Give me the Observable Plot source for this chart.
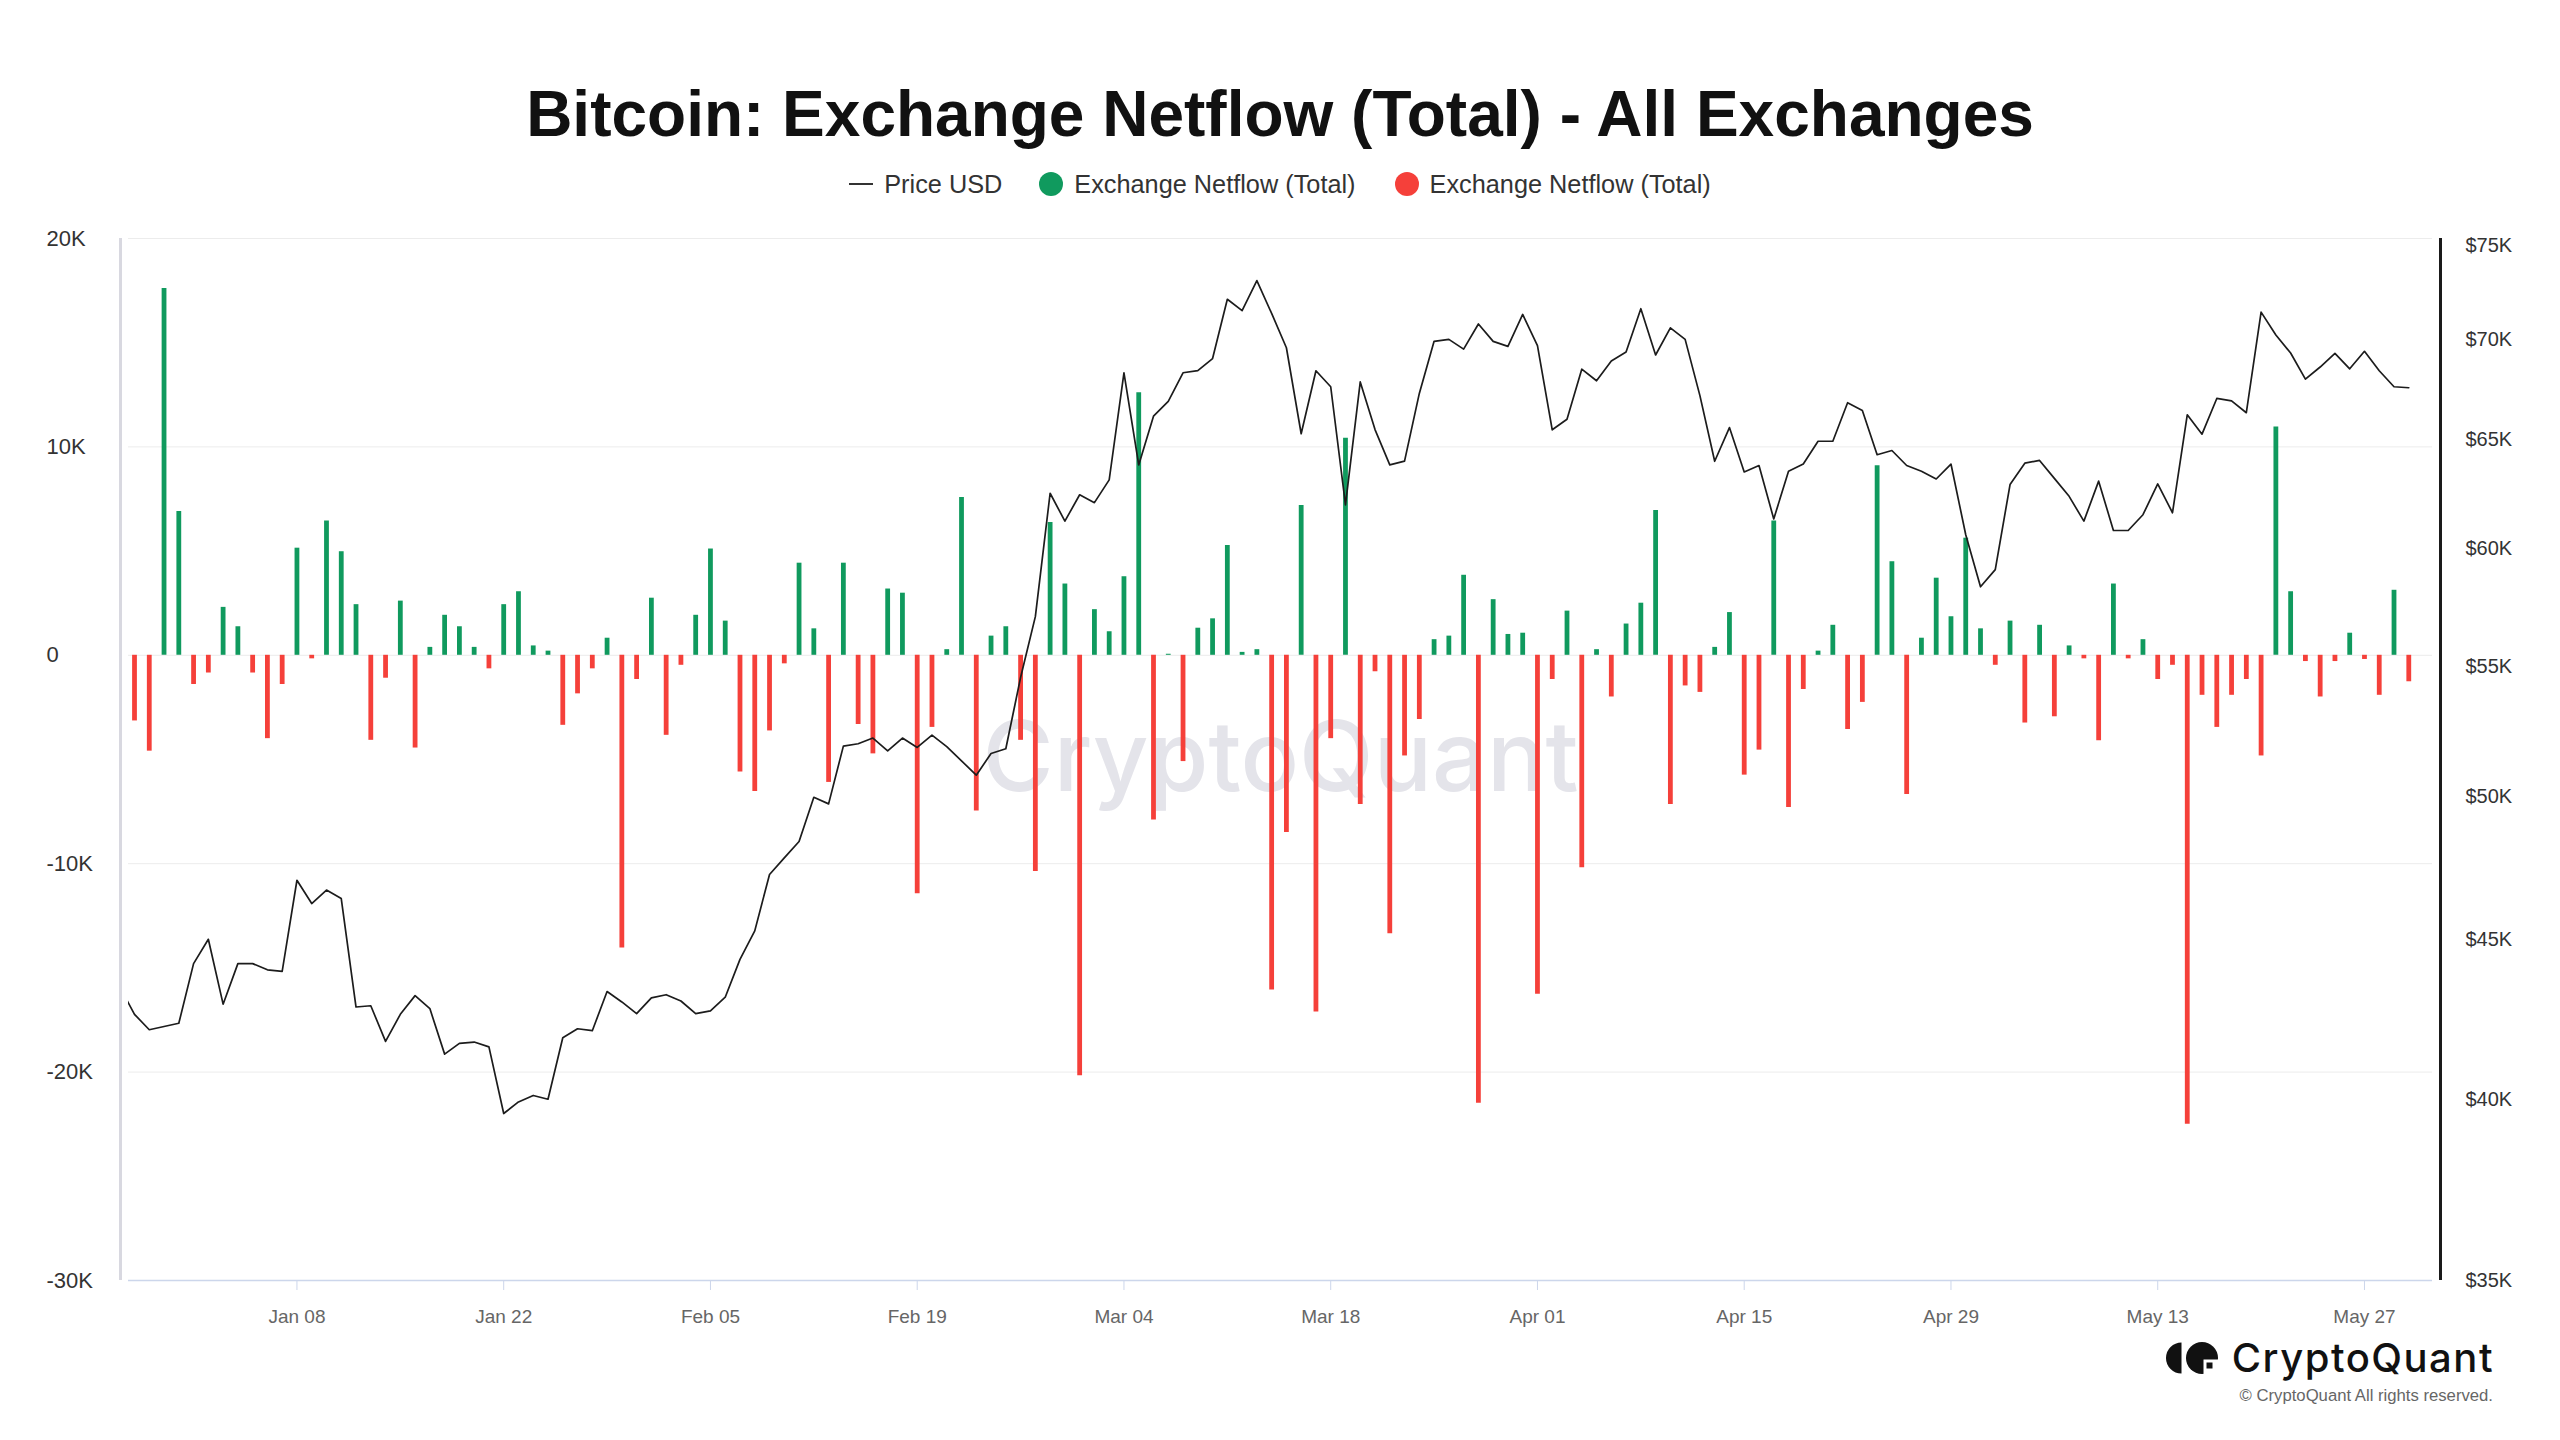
<!DOCTYPE html>
<html>
<head>
<meta charset="utf-8">
<script src="https://cdn.jsdelivr.net/npm/d3@7"></script>
<script src="https://cdn.jsdelivr.net/npm/@observablehq/plot@0.6"></script>
<style>
  html, body { margin: 0; padding: 0; background: #fff; }
  body { width: 2560px; height: 1440px; position: relative; overflow: hidden;
         font-family: "Liberation Sans", Arial, Helvetica, sans-serif; }
  #title { position: absolute; left: 0; width: 2560px; top: 82px; line-height: 64px;
           font-size: 64px; font-weight: bold; text-align: center; color: #111; }
  #legend { position: absolute; left: 0; width: 2560px; top: 169px; height: 30px; line-height: 30px;
            font-size: 25.3px; color: #333; display: flex; justify-content: center; align-items: center; }
  #legend .dot { display: inline-block; width: 24px; height: 24px; border-radius: 50%; }
  #chart { position: absolute; left: 0; top: 200px; }
  #brand { position: absolute; right: 66px; top: 1339px; height: 38px; line-height: 38px;
           display: flex; align-items: center; }
  #brand span { font-family: Inter, "Liberation Sans", sans-serif; font-size: 40px; font-weight: 500;
                letter-spacing: 1.5px; color: #111; margin-left: 13px; }
  #copy { position: absolute; right: 67px; top: 1386px; line-height: 20px; font-size: 16.7px; color: #666; }
</style>
</head>
<body>
<div id="title">Bitcoin: Exchange Netflow (Total) - All Exchanges</div>
<div id="legend">
  <svg width="24" height="4" style="margin-right:11px"><line x1="0" y1="2" x2="24" y2="2" stroke="#333" stroke-width="2"/></svg>
  <span>Price USD</span>
  <span class="dot" style="background:#109a5e;margin-left:37px;margin-right:11px"></span>
  <span>Exchange Netflow (Total)</span>
  <span class="dot" style="background:#f5403a;margin-left:39px;margin-right:11px"></span>
  <span>Exchange Netflow (Total)</span>
</div>
<div id="chart"></div>
<div id="brand">
  <svg width="53" height="32" viewBox="0 0 53 32">
    <path d="M15.5,0.5 A15.5,15.5 0 0 0 15.5,31.5 Z" fill="#111"/>
    <circle cx="36" cy="16" r="16" fill="#111"/>
    <rect x="37.5" y="17.5" width="15.5" height="14.5" fill="#fff"/>
    <rect x="40.5" y="20.5" width="6" height="6" fill="#111"/>
  </svg>
  <span>CryptoQuant</span>
</div>
<div id="copy">© CryptoQuant All rights reserved.</div>

<script>
// ---- Data ----
// Daily exchange netflow (BTC), 2023-12-28 .. 2024-05-30
const flowStart = "2023-12-28";
const netflow = [
  -3150, -4600, 17600, 6900,
  -1400, -850, 2300, 1370, -850, -4000, -1400, 5140, -170, 6440, 4970, 2430, -4080, -1100, 2600, -4450,
  380, 1920, 1370, 380, -650, 2430, 3050, 450, 200, -3360, -1850, -650, 820, -14040, -1160,
  2740, -3840, -480, 1920, 5100, 1640, -5600, -6540, -3630, -410, 4420, 1270, -6100, 4420, -3320,
  -4730, 3180, 2980, -11440, -3460, 270, 7570, -7470, 920, 1370, -4080, -10380, 6370, 3420,
  -20170, 2190, 1130, 3770, 12600, -7900, 50, -5100, 1300, 1750, 5270, 140, 270, -16060, -8500, 7190,
  -17120, -4000, 10410, -7160, -790, -13360, -4830, -3080, 750, 920, 3840, -21500, 2670, 1000, 1060,
  -16270, -1160, 2120, -10200, 270, -2000, 1500, 2500, 6950, -7160, -1470, -1780, 380, 2050, -5750,
  -4550, 6440, -7300, -1640, 200, 1440, -3560, -2260, 9100, 4490, -6680, 820, 3700, 1850, 5620,
  1270, -480, 1640, -3250, 1440, -2950, 450, -170, -4100, 3420, -170, 750, -1160, -480, -22500,
  -1920, -3460, -1920, -1160, -4830, 10960, 3050, -300, -2000, -300, 1060, -200, -1920, 3120, -1270
];
// Daily BTC price (USD), 2023-12-27 .. 2024-05-30
const priceStart = "2023-12-27";
const priceUSD = [
  43450, 42580, 42100, 42200, 42300,
  44200, 45000, 42900, 44200, 44200, 44000, 43950, 47000, 46200, 46660, 46370, 42810, 42850, 41740, 42580,
  43170, 42760, 41350, 41680, 41720, 41570, 39580, 39920, 40110, 40000, 41850, 42130, 42070, 43300, 42970, 42600,
  43100, 43200, 43000, 42600, 42690, 43120, 44340, 45280, 47200, 47780, 48360, 49960, 49720, 51880, 51970,
  52190, 51700, 52190, 51830, 52300, 51860, 51320, 50780, 51600, 51780, 54570, 57070, 62500, 61230,
  62430, 62070, 63120, 68300, 63820, 66150, 66880, 68300, 68410, 69020, 72100, 71500, 73100, 71350, 69570,
  65300, 68400, 67600, 61970, 67840, 65500, 63820, 64000, 67270, 69900, 70000, 69500, 70800, 69900, 69640, 71300,
  69680, 65490, 66000, 68480, 67900, 68900, 69350, 71600, 69200, 70600, 70000, 67160, 63990, 65600, 63490,
  63790, 61330, 63520, 63860, 64940, 64940, 66810, 66430, 64300, 64500, 63790, 63520, 63160, 63860, 60620,
  58340, 59080, 62900, 63900, 64030, 63190, 62360, 61230, 63060, 60810, 60810, 61520, 62930, 61610, 66220,
  65280, 67020, 66900, 66320, 71420, 70230, 69300, 67980, 68590, 69280, 68500, 69390, 68400, 67600, 67550
];
const leftTicks = [-30000, -20000, -10000, 0, 10000, 20000];
const priceTicks = [35000, 40000, 45000, 50000, 55000, 60000, 65000, 70000, 75000];
const dateTicks = ["2024-01-08", "2024-01-22", "2024-02-05", "2024-02-19", "2024-03-04", "2024-03-18",
                   "2024-04-01", "2024-04-15", "2024-04-29", "2024-05-13", "2024-05-27"];

const GREEN = "#109a5e", RED = "#f5403a";

// ---- Tables ----
const flows = netflow.map((v, i) => ({ date: d3.utcDay.offset(new Date(flowStart), i), value: v }));
const prices = priceUSD.map((p, i) => ({ date: d3.utcDay.offset(new Date(priceStart), i), price: p }));

// ---- Scales (left linear netflow, right log price mapped onto it) ----
const yDomain = [-30000, 20000];
const pDomain = [35000, 75400];
const lp0 = Math.log(pDomain[0]), lp1 = Math.log(pDomain[1]);
const toLeft = p => yDomain[0] + (yDomain[1] - yDomain[0]) * (Math.log(p) - lp0) / (lp1 - lp0);
const fromLeft = v => Math.exp(lp0 + (v - yDomain[0]) / (yDomain[1] - yDomain[0]) * (lp1 - lp0));
const xDomain = [new Date(Date.UTC(2023, 11, 27, 14, 15)), new Date(Date.UTC(2024, 4, 31, 14, 33))];

const FONT = '"Liberation Sans", Arial, Helvetica, sans-serif';

const chart = Plot.plot({
  width: 2560,
  height: 1140,
  marginTop: 38,
  marginBottom: 60,
  marginLeft: 128,
  marginRight: 128,
  style: { fontFamily: FONT, background: "transparent", overflow: "visible" },
  x: { type: "utc", domain: xDomain, label: null },
  y: { domain: yDomain, label: null },
  marks: [
    Plot.ruleY(leftTicks.filter(t => t > yDomain[0]), { stroke: "#ececec", strokeWidth: 1 }),
    Plot.text(["CryptoQuant"], { text: d => d, frameAnchor: "middle", fontSize: 97, fontFamily: "Inter",
                                 fontWeight: 500, fill: "#e4e4ea" }),
    Plot.ruleX(flows.filter(d => d.value >= 0), { x: "date", y1: 0, y2: "value", stroke: GREEN, strokeWidth: 4.8 }),
    Plot.ruleX(flows.filter(d => d.value < 0), { x: "date", y1: 0, y2: "value", stroke: RED, strokeWidth: 4.8 }),
    Plot.line(prices, { x: "date", y: d => toLeft(d.price), stroke: "#1c1c1c", strokeWidth: 1.7, clip: true }),
    Plot.ruleY([yDomain[0]], { stroke: "#ccd6eb", strokeWidth: 1.5 }),
    Plot.ruleX([xDomain[0]], { dx: -8, stroke: "#d8d8e0", strokeWidth: 3 }),
    Plot.ruleX([xDomain[1]], { dx: 8, stroke: "#1a1a1a", strokeWidth: 3 }),
    Plot.axisY(leftTicks, { anchor: "left", tickSize: 0, tickPadding: 82, textAnchor: "start",
      tickFormat: d => d === 0 ? "0" : (d / 1000) + "K", fontSize: 22, fill: "#333", label: null }),
    Plot.axisY(priceTicks.map(toLeft), { anchor: "right", tickSize: 0, tickPadding: 33, textAnchor: "start",
      tickFormat: v => "$" + Math.round(fromLeft(v) / 1000) + "K", fontSize: 20, fill: "#333", label: null }),
    Plot.axisX(dateTicks.map(s => new Date(s)), { anchor: "bottom", tickSize: 10, tickPadding: 19,
      stroke: "#ccd6eb", fill: "#666", fontSize: 19, tickFormat: d3.utcFormat("%b %d"), label: null })
  ]
});
document.getElementById("chart").appendChild(chart);
</script>
</body>
</html>
